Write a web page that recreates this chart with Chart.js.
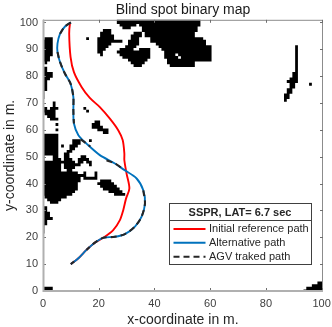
<!DOCTYPE html>
<html><head><meta charset="utf-8">
<style>html,body{margin:0;padding:0;background:#fff}#w{position:relative;width:332px;height:327px}</style>
<script src="https://cdn.jsdelivr.net/npm/chart.js@4"></script>
</head><body><div id="w"><canvas id="c" width="332" height="327"></canvas></div>
<script>
const xTicks=[0,20,40,60,80,100];
const yTicks=[0,10,20,30,40,50,60,70,80,90,100];
const chartTitle='Blind spot binary map';
const xLabel='x-coordinate in m.';
const yLabel='y-coordinate in m.';
const legendTitle='SSPR, LAT= 6.7 sec';
const seriesNames=['Initial reference path','Alternative path','AGV traked path'];
const refX=[10,9.7,9.4,9.9,11.1,13.9,16.8,20.4,24,27,28.6,29.2,29.2,30,31,29.8,28.8,27.6,25.2,21.6,18.6,15.6,12.7,10];
const refY=[100,99.8,95.8,87.1,81.5,75.9,71.9,68.5,64.2,59.9,56.2,51.2,48.7,43.7,38.2,34.4,30.1,26.4,22.7,19.8,18,15.3,12.2,10];
const altX=[10,7.9,6.1,5.2,5.2,6.1,7.9,9.9,10.9,10.9,11.1,12.7,15.6,20.4,25.8,29,33.6,36,36.6,35.4,33,29.4,25.8,21.6,18.6,15.6,12.7,10];
const altY=[100,98.5,95.8,92.1,89,85.3,80.9,77.2,72.2,67.3,62.4,58,54.9,50.6,47.5,45.2,41.9,37.5,32.6,27.7,24,21.2,20.2,19.8,18,15.3,12.2,10];
// tracked path: dark stretches as seen on the picture, null where only the blue path shows
const agvX=[10,7.9,6.1,null,5.2,6.1,7.9,9.9,10.9,10.9,11.1,null,13.5,15.6,17,null,22.8,25.8,29,null,36,36.6,35.4,33,29.4,25.8,21.6,18.6,15.6,null,11.2,10];
const agvY=[100,98.5,95.8,null,89,85.3,80.9,77.2,72.2,67.3,62.4,null,56.5,54.9,53.8,null,48.7,47.5,45.2,null,37.5,32.6,27.7,24,21.2,20.2,19.8,18,15.3,null,11,10];
// blind-spot cells: [row y, x from, x to, x from, x to ...]
const blindRows=[
[101,27,56],[100,27,56],[99,28,33,35,56],[98,29,31,36,55],[97,22,24,36,55],[96,21,24,33,35,37,54],[95,21,25,32,35,37,54],
[94,20,25,32,34,39,57,1,3,16,16],[93,20,28,31,34,39,58,0,3],[92,20,24,31,34,41,58,0,3],[91,20,23,30,33,42,60,0,3,91,91],
[90,20,22,28,32,35,38,43,60,0,3,91,91],[89,20,21,27,38,44,60,0,3,91,91],[88,21,21,28,38,44,47,49,60,0,3,91,91],
[87,29,38,44,48,50,60,0,2,91,91],[86,31,37,45,60,0,2,91,91],[85,32,36,45,54,1,1,91,91],[84,33,35,46,48,49,54,91,91],
[83,0,1,91,91],[82,0,1,91,91],[81,0,3,90,91],[80,0,3,90,91],[79,0,2,89,91],[78,0,1,88,91],[77,0,1,89,90,96,96],[76,0,1,89,90],
[75,0,1,88,89],[74,0,0,88,89],[73,0,0,87,88],[72,0,0,87,88],[71,87,87],
[70,4,4],[69,4,4],[68,0,1,3,5,15,15],[67,0,4,16,16],[66,1,4],[65,2,4],[64,3,4,5,5],
[63,19,20],[62,5,5,18,20],[61,18,21],[60,5,5,20,23],[59,22,23],
[58,0,5],[57,0,5],[56,0,5,11,13,17,17],[55,0,5,11,13],[54,0,5,7,7,10,12],[53,0,5,10,11],[52,0,5,9,10],[51,0,5,8,9],
[50,0,0,4,5,8,9,14,15],[49,0,0,4,6,8,10,13,16],[48,0,11,13,14,16,17],[47,0,6,8,11,12,13,17,17],[46,0,6,8,11],[45,0,6,9,10],
[44,0,12,15,15,19,19],[43,0,14,15,15,19,19],[42,0,13,15,19],[41,0,13,21,24],[40,0,12,20,25],[39,0,12,21,26],[38,0,12,22,27],
[37,0,11,24,28],[36,0,10,26,29],[35,1,8],[34,2,6],[33,3,5],
[31,0,1],[30,0,1],[29,0,2],[28,0,2],[27,0,3],[26,0,1],[25,0,1],[24,0,0],[23,0,0],[22,0,0],
[3,99,100],[2,97,100],[1,0,3,95,100],[0,0,3,94,100]
];
const blindStrips=[];
for(const r of blindRows){for(let i=1;i<r.length;i+=2){
  blindStrips.push({x:r[i]-.5,y:r[0]},{x:r[i+1]+.5,y:r[0]},{x:null,y:null});
}}
const zip=(a,b)=>a.map((v,i)=>({x:v,y:b[i]}));
const RED='#ff0000',BLUE='#0072bd',DARK='#262626',TXT='#404040',FF='"Liberation Sans",Arial,sans-serif';

const framePlugin={id:'frame',afterDatasetsDraw(ch){
  const {ctx,chartArea:a,scales:{x,y}}=ch;
  ctx.save();
  ctx.strokeStyle='#8c8c8c';ctx.lineWidth=1;
  ctx.beginPath();ctx.moveTo(a.left,a.top+.5);ctx.lineTo(a.right-.5,a.top+.5);ctx.lineTo(a.right-.5,a.bottom);ctx.stroke();
  ctx.strokeStyle='#6e6e6e';ctx.beginPath();
  for(const v of xTicks){const p=Math.round(x.getPixelForValue(v))+.5;ctx.moveTo(p,a.bottom);ctx.lineTo(p,a.bottom-3);ctx.moveTo(p,a.top);ctx.lineTo(p,a.top+3);}
  for(const v of yTicks){const p=Math.round(y.getPixelForValue(v))+.5;ctx.moveTo(a.left,p);ctx.lineTo(a.left+3,p);ctx.moveTo(a.right,p);ctx.lineTo(a.right-3,p);}
  ctx.stroke();
  ctx.strokeStyle='#b0b0b0';ctx.lineWidth=2;
  ctx.beginPath();ctx.moveTo(a.left+.5,a.top);ctx.lineTo(a.left+.5,a.bottom);ctx.lineTo(a.right,a.bottom);ctx.stroke();
  const L=169.5,T=203.5,W=142,H=61;
  ctx.fillStyle='#fff';ctx.fillRect(L,T,W,H);
  ctx.strokeStyle='#404040';ctx.lineWidth=1;ctx.strokeRect(L,T,W,H);
  ctx.beginPath();ctx.moveTo(L,T+17);ctx.lineTo(L+W,T+17);ctx.stroke();
  ctx.textBaseline='middle';ctx.fillStyle='#262626';
  ctx.font='bold 11px '+FF;ctx.textAlign='center';ctx.fillText(legendTitle,L+W/2-.5,T+9);
  ctx.textAlign='left';ctx.font='11px '+FF;
  const st=[[RED,[]],[BLUE,[]],[DARK,[6,4]]],ry=[229,242.7,256.7];
  seriesNames.forEach((n,i)=>{
    ctx.strokeStyle=st[i][0];ctx.setLineDash(st[i][1]);ctx.lineWidth=2;
    ctx.beginPath();ctx.moveTo(173.5,ry[i]);ctx.lineTo(205.5,ry[i]);ctx.stroke();ctx.setLineDash([]);
    ctx.fillStyle='#262626';ctx.fillText(n,209,ry[i]);
  });
  ctx.restore();
}};
Chart.defaults.font.family=FF;
new Chart(document.getElementById('c'),{type:'scatter',
 data:{datasets:[
  {label:'Blind spots',data:blindStrips,order:4,showLine:true,tension:0,spanGaps:false,pointRadius:0,borderColor:'#000',borderWidth:2.9,borderCapStyle:'butt'},
  {label:seriesNames[0],data:zip(refX,refY),order:3,showLine:true,tension:.3,pointRadius:0,borderColor:RED,borderWidth:1.9},
  {label:seriesNames[1],data:zip(altX,altY),order:2,showLine:true,tension:.3,pointRadius:0,borderColor:BLUE,borderWidth:1.9},
  {label:seriesNames[2],data:zip(agvX,agvY),order:1,showLine:true,tension:.3,spanGaps:false,pointRadius:0,borderColor:DARK,borderWidth:2.1,borderDash:[6,4]}
 ]},
 options:{responsive:false,animation:false,devicePixelRatio:1,
  layout:{padding:{left:0,right:9,top:0,bottom:0}},
  plugins:{legend:{display:false},tooltip:{enabled:false},
   title:{display:true,fullSize:false,text:chartTitle,color:'#1a1a1a',font:{size:14,weight:'normal'},padding:{top:2,bottom:1}}},
  scales:{
   x:{type:'linear',min:0,max:100.5,grid:{display:false,drawTicks:false},border:{display:false},
     afterBuildTicks:s=>{s.ticks=xTicks.map(v=>({value:v}))},afterFit:s=>{s.height=36;s.paddingLeft=0;s.paddingRight=0},
     ticks:{color:TXT,font:{size:11},padding:6,maxRotation:0,autoSkip:false},
     title:{display:true,text:xLabel,color:'#262626',font:{size:14},padding:{top:0,bottom:-2}}},
   y:{type:'linear',min:0,max:101,grid:{display:false,drawTicks:false},border:{display:false},
     afterBuildTicks:s=>{s.ticks=yTicks.map(v=>({value:v}))},afterFit:s=>{s.width=43;s.paddingTop=0;s.paddingBottom=0},
     ticks:{color:TXT,font:{size:11},padding:5,autoSkip:false},
     title:{display:true,text:yLabel,color:'#262626',font:{size:14},padding:{top:2,bottom:0}}}
  }},
 plugins:[framePlugin]});
</script></body></html>
